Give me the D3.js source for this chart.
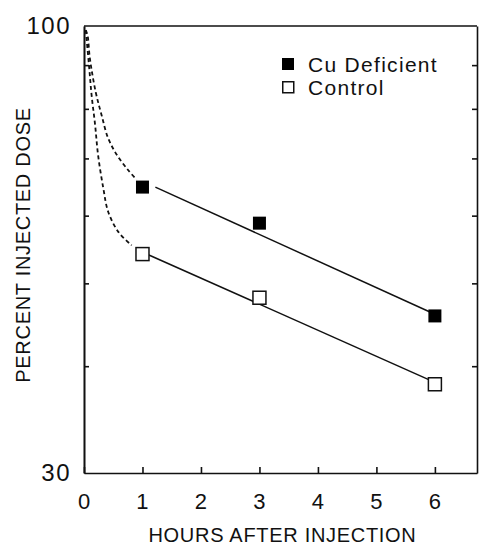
<!DOCTYPE html>
<html>
<head>
<meta charset="utf-8">
<script src="https://cdn.jsdelivr.net/npm/d3@7"></script>
<style>
  body { margin: 0; background: #fff; }
  text { font-family: "Liberation Sans", Arial, sans-serif; fill: #111; }
</style>
</head>
<body>
<div id="chart"></div>
<script>
// Data
const hours = [1, 3, 6];
const cuDeficient = [64.8, 58.8, 45.8];
const control = [54.1, 48.1, 38.1];

// fitted (solid) lines: [hour, percent]
const cuFit = [[1.22, 64.8], [6, 46.0]];
const controlFit = [[1.1, 54.0], [6, 38.3]];

// early phase (dashed) curves
const cuEarly = [[0.03, 98.9], [0.06, 97.6], [0.1, 91.7], [0.2, 83.7], [0.3, 78.7],
                 [0.41, 74.0], [0.56, 70.7], [0.75, 67.9], [0.9, 66.1]];
const controlEarly = [[0.03, 98.9], [0.085, 90.0], [0.13, 83.0], [0.19, 76.6], [0.24, 70.7],
                      [0.33, 64.6], [0.415, 60.6], [0.59, 57.4], [0.815, 55.4]];

const xTicks = [0, 1, 2, 3, 4, 5, 6];
const yLabels = [30, 100];
const yMinor = [40, 50, 60, 70, 80, 90];

const width = 479;
const height = 545;
const margin = { top: 26, right: 2, bottom: 72, left: 84 };

const svg = d3.select("#chart").append("svg")
    .attr("width", width)
    .attr("height", height);

// Scales
const x = d3.scaleLinear()
    .domain([0, 6.72])
    .range([margin.left, width - margin.right]);

const y = d3.scaleLog()
    .domain([30, 100])
    .range([height - margin.bottom, margin.top]);

// Axes
const xAxis = svg.append("g")
    .attr("transform", `translate(0,${y(30)})`)
    .call(d3.axisBottom(x).tickValues(xTicks).tickFormat(d3.format("d"))
        .tickSizeInner(-6).tickSizeOuter(0).tickPadding(20));

const yAxis = svg.append("g")
    .attr("class", "ylab")
    .attr("transform", `translate(${x(0)},0)`)
    .call(d3.axisLeft(y).tickValues(yLabels).tickFormat(d3.format("d"))
        .tickSize(0).tickPadding(13));

const yMinorLeft = svg.append("g")
    .attr("transform", `translate(${x(0)},0)`)
    .call(d3.axisLeft(y).tickValues(yMinor).tickFormat("").tickSizeInner(-5).tickSizeOuter(0));

const yMinorRight = svg.append("g")
    .attr("transform", `translate(${x(6.72)},0)`)
    .call(d3.axisRight(y).tickValues(yMinor).tickFormat("").tickSizeInner(-5).tickSizeOuter(0));

svg.selectAll(".domain, .tick line")
    .attr("stroke", "#111")
    .attr("stroke-width", 1.6);

svg.selectAll(".tick text")
    .style("font-size", "22px")
    .style("letter-spacing", "1px")
    .attr("fill", "#111");

svg.selectAll(".ylab .tick text")
    .style("font-size", "24px")
    .style("letter-spacing", "1.5px");

// top border
svg.append("line")
    .attr("x1", x(0)).attr("x2", x(6.72))
    .attr("y1", y(100)).attr("y2", y(100))
    .attr("stroke", "#111")
    .attr("stroke-width", 1.6);

// Axis labels
svg.append("text")
    .attr("x", (x(0) + x(6.72)) / 2 + 2)
    .attr("y", 542)
    .style("text-anchor", "middle")
    .style("font-size", "20px")
    .style("letter-spacing", "0.7px")
    .text("HOURS AFTER INJECTION");

svg.append("text")
    .attr("transform", "rotate(-90)")
    .attr("x", -245)
    .attr("y", 30)
    .style("text-anchor", "middle")
    .style("font-size", "20px")
    .style("letter-spacing", "0.7px")
    .text("PERCENT INJECTED DOSE");

// Lines
const line = d3.line()
    .x(d => x(d[0]))
    .y(d => y(d[1]));

const curve = d3.line()
    .curve(d3.curveCatmullRom.alpha(0.5))
    .x(d => x(d[0]))
    .y(d => y(d[1]));

[cuEarly, controlEarly].forEach(pts => {
    svg.append("path")
        .datum(pts)
        .attr("fill", "none")
        .attr("stroke", "#111")
        .attr("stroke-width", 1.8)
        .attr("stroke-dasharray", "4,3")
        .attr("d", curve);
});

[cuFit, controlFit].forEach(pts => {
    svg.append("path")
        .datum(pts)
        .attr("fill", "none")
        .attr("stroke", "#111")
        .attr("stroke-width", 1.5)
        .attr("d", line);
});

// Markers
const size = 13;
svg.selectAll(".cu")
    .data(hours)
    .enter()
    .append("rect")
    .attr("class", "cu")
    .attr("x", d => x(d) - size / 2)
    .attr("y", (d, i) => y(cuDeficient[i]) - size / 2)
    .attr("width", size)
    .attr("height", size)
    .attr("fill", "#000");

svg.selectAll(".ctrl")
    .data(hours)
    .enter()
    .append("rect")
    .attr("class", "ctrl")
    .attr("x", d => x(d) - size / 2)
    .attr("y", (d, i) => y(control[i]) - size / 2)
    .attr("width", size)
    .attr("height", size)
    .attr("fill", "#fff")
    .attr("stroke", "#111")
    .attr("stroke-width", 1.5);

// Legend
const legend = svg.append("g").attr("transform", "translate(282,58)");
legend.append("rect")
    .attr("x", 0).attr("y", 0)
    .attr("width", 12).attr("height", 12)
    .attr("fill", "#000");
legend.append("rect")
    .attr("x", 0.75).attr("y", 23.75)
    .attr("width", 11).attr("height", 11)
    .attr("fill", "#fff")
    .attr("stroke", "#111")
    .attr("stroke-width", 1.5);
legend.append("text")
    .attr("x", 26).attr("y", 14)
    .style("font-size", "21px")
    .style("letter-spacing", "1.3px")
    .text("Cu Deficient");
legend.append("text")
    .attr("x", 26).attr("y", 37)
    .style("font-size", "21px")
    .style("letter-spacing", "1.3px")
    .text("Control");
</script>
</body>
</html>
